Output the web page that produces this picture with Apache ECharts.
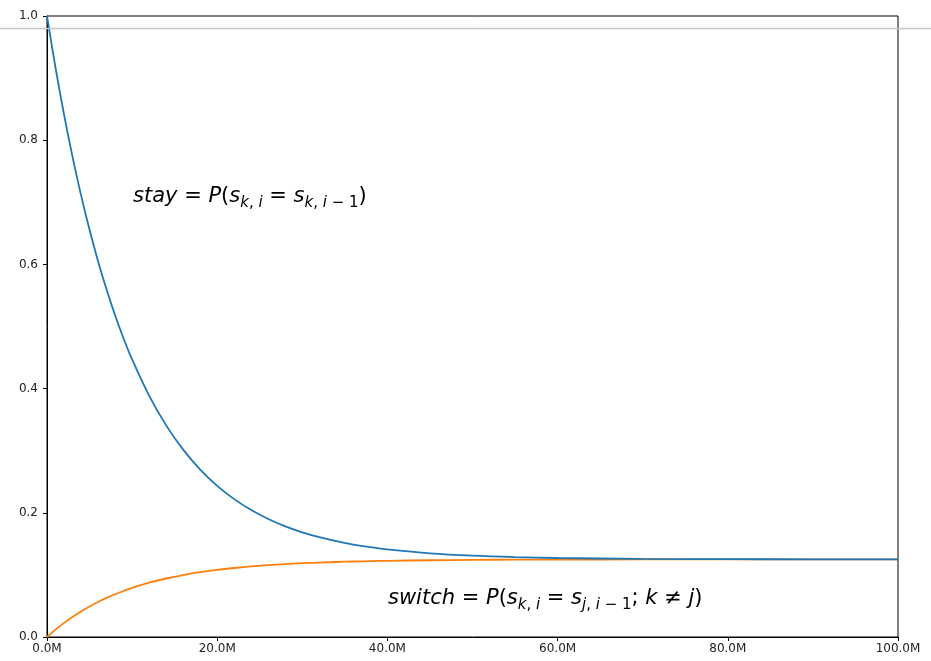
<!DOCTYPE html>
<html>
<head>
<meta charset="utf-8">
<script src="https://cdn.jsdelivr.net/npm/echarts@6/dist/echarts.min.js"></script>
<style>html,body{margin:0;padding:0;background:#fff}#c{width:931px;height:661px}</style>
</head>
<body>
<div id="c"></div>
<script>
// time in millions (x values)
const timeM = [0, 1, 2, 3, 4, 5, 6, 7, 8, 9, 10, 12, 14, 16, 18, 20, 22, 24, 26, 28, 30, 32, 34, 36, 38, 40, 45, 50, 55, 60, 70, 80, 90, 100];
// probability of staying in the same state
const stayValues = [1.0, 0.9167, 0.8414, 0.7732, 0.7115, 0.6557, 0.6052, 0.5595, 0.5181, 0.4807, 0.4469, 0.3886, 0.3408, 0.3017, 0.2696, 0.2434, 0.2220, 0.2044, 0.1900, 0.1782, 0.1686, 0.1607, 0.1542, 0.1489, 0.1446, 0.1410, 0.1347, 0.1309, 0.1286, 0.1272, 0.1258, 0.1253, 0.1251, 0.1250];
// probability of switching to a specific other state
const switchValues = [0.0, 0.0119, 0.0227, 0.0324, 0.0412, 0.0492, 0.0564, 0.0629, 0.0688, 0.0741, 0.0790, 0.0874, 0.0942, 0.0998, 0.1043, 0.1081, 0.1111, 0.1137, 0.1157, 0.1174, 0.1188, 0.1199, 0.1208, 0.1216, 0.1222, 0.1227, 0.1236, 0.1242, 0.1245, 0.1247, 0.1249, 0.1250, 0.1250, 0.1250];
const xTicks = [0, 20, 40, 60, 80, 100];
const yTicks = [0.0, 0.2, 0.4, 0.6, 0.8, 1.0];

const stayData = timeM.map((t, i) => [t, stayValues[i]]);
const switchData = timeM.map((t, i) => [t, switchValues[i]]);

const FONT = 'DejaVu Sans';
const mainSz = 21, subSz = 15;
const rich = {
  it: {fontFamily: FONT, fontStyle: 'italic', fontSize: mainSz, color: '#1a1a1a', verticalAlign: 'bottom', padding: [0, 0, 4, 0]},
  rm: {fontFamily: FONT, fontSize: mainSz, color: '#1a1a1a', verticalAlign: 'bottom', padding: [0, 0, 4, 0]},
  sit: {fontFamily: FONT, fontStyle: 'italic', fontSize: subSz, color: '#1a1a1a', verticalAlign: 'bottom', padding: [0, 0, 0, 0]},
  srm: {fontFamily: FONT, fontSize: subSz, color: '#1a1a1a', verticalAlign: 'bottom', padding: [0, 0, 0, 0]}
};

const chart = echarts.init(document.getElementById('c'), null, {renderer: 'canvas'});
chart.setOption({
  backgroundColor: '#fff',
  animation: false,
  grid: {left: 47, right: 33, top: 16, bottom: 24, show: true, borderColor: '#000', borderWidth: 1},
  xAxis: {
    type: 'value', min: 0, max: 100, interval: 20,
    axisLine: {show: true, lineStyle: {color: '#000', width: 1}},
    axisTick: {show: true, length: 4, lineStyle: {color: '#000'}},
    splitLine: {show: false},
    axisLabel: {fontFamily: FONT, fontSize: 12, color: '#222', margin: 6,
      formatter: v => v.toFixed(1) + 'M'}
  },
  yAxis: {
    type: 'value', min: 0, max: 1, interval: 0.2,
    axisLine: {show: true, lineStyle: {color: '#000', width: 1}},
    axisTick: {show: true, length: 4, lineStyle: {color: '#000'}},
    splitLine: {show: false},
    axisLabel: {fontFamily: FONT, fontSize: 12, color: '#222', margin: 9,
      formatter: v => v.toFixed(1)}
  },
  series: [
    {name: 'stay', type: 'line', data: stayData, showSymbol: false, smooth: 0.3,
      lineStyle: {color: '#1f77b4', width: 1.8}, itemStyle: {color: '#1f77b4'}, z: 3},
    {name: 'switch', type: 'line', data: switchData, showSymbol: false, smooth: 0.3,
      lineStyle: {color: '#ff7f0e', width: 1.8}, itemStyle: {color: '#ff7f0e'}, z: 2}
  ],
  graphic: [
    {type: 'text', left: 133, top: 186, z: 10, style: {
      text: '{it|stay}{rm| = }{it|P}{rm|(}{it|s}{sit|k}{srm|, }{sit|i}{rm| = }{it|s}{sit|k}{srm|, }{sit|i}{srm| − 1}{rm|)}',
      rich: rich}},
    {type: 'text', left: 388, top: 588, z: 10, style: {
      text: '{it|switch}{rm| = }{it|P}{rm|(}{it|s}{sit|k}{srm|, }{sit|i}{rm| = }{it|s}{sit|j}{srm|, }{sit|i}{srm| − 1}{rm|; }{it|k}{rm| ≠ }{it|j}{rm|)}',
      rich: rich}},
    {type: 'line', z: 100, shape: {x1: 0, y1: 28.5, x2: 931, y2: 28.5},
      style: {stroke: '#c8c8c8', lineWidth: 1.5}}
  ]
});
</script>
</body>
</html>
